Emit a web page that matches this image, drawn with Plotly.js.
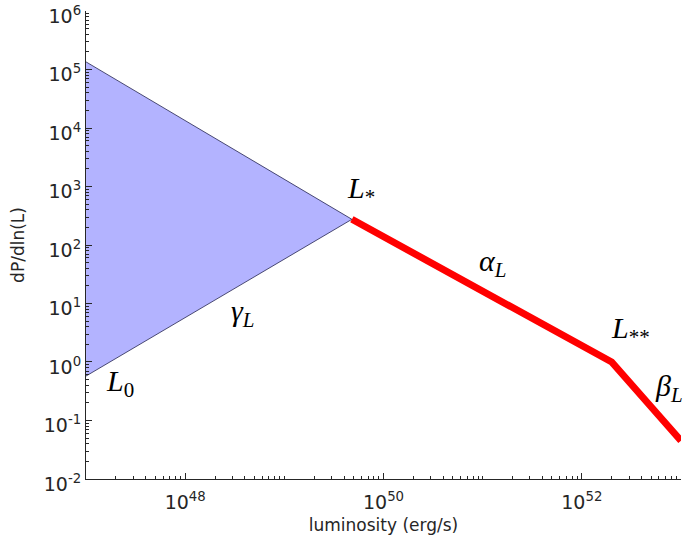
<!DOCTYPE html>
<html>
<head>
<meta charset="utf-8">
<script src="https://cdn.plot.ly/plotly-3.0.1.min.js"></script>
<style>
  html, body { margin: 0; padding: 0; background: #fff; }
  #chart { width: 686px; height: 544px; }
</style>
</head>
<body>
<div id="chart"></div>
<script>
// luminosity function: fan (gamma_L spread) below L*, broken power law above
const fan_L = [1e47, 4.8e49, 1e47];
const fan_P = [1.35e5, 275, 0.575];

const broken_L = [4.8e49, 2e52, 1e53];
const broken_P = [275, 1, 0.045];

const x_tick_vals = [1e48, 1e50, 1e52];
const x_tick_text = ["10<sup>48</sup>", "10<sup>50</sup>", "10<sup>52</sup>"];

const y_tick_vals = [1e-2, 1e-1, 1e0, 1e1, 1e2, 1e3, 1e4, 1e5, 1e6];
const y_tick_text = ["10<sup>-2</sup>", "10<sup>-1</sup>", "10<sup>0</sup>", "10<sup>1</sup>",
  "10<sup>2</sup>", "10<sup>3</sup>", "10<sup>4</sup>", "10<sup>5</sup>", "10<sup>6</sup>"];

// labels, placed in log10 data units
const label_text = ["<i>L</i><sub>*</sub>", "<i>α</i><sub><i>L</i></sub>", "<i>γ</i><sub><i>L</i></sub>",
  "<i>L</i><sub>0</sub>", "<i>L</i><sub>**</sub>", "<i>β</i><sub><i>L</i></sub>"];
const label_x = [49.77, 51.10, 48.58, 47.34, 52.49, 52.88];
const label_y = [2.94, 1.69, 0.84, -0.36, 0.55, -0.44];

const axis_color = "#262626";

const fan_data = {
  x: fan_L,
  y: fan_P,
  mode: "lines",
  type: "scatter",
  fill: "toself",
  fillcolor: "#b3b3ff",
  line: { color: "#23234f", width: 0.8 },
  hoverinfo: "skip",
};

const broken_data = {
  x: broken_L,
  y: broken_P,
  mode: "lines",
  type: "scatter",
  line: { color: "#ff0000", width: 7 },
};

const annotations = label_text.map((t, i) => ({
  text: t,
  x: label_x[i],
  y: label_y[i],
  xref: "x",
  yref: "y",
  showarrow: false,
  font: { family: "Liberation Serif, serif", size: 30, color: "#000" },
}));

const layout = {
  width: 686,
  height: 544,
  margin: { l: 86, r: 5, t: 11, b: 65 },
  paper_bgcolor: "#fff",
  plot_bgcolor: "#fff",
  showlegend: false,
  font: { family: "DejaVu Sans, sans-serif", size: 19, color: axis_color },
  xaxis: {
    type: "log",
    range: [46.9995, 53.0005],
    tickvals: x_tick_vals,
    ticktext: x_tick_text,
    ticks: "inside",
    ticklen: 6,
    tickcolor: axis_color,
    ticklabelstandoff: 6,
    ticklabeloverflow: "allow",
    minor: { dtick: "D1", ticks: "inside", ticklen: 3, tickcolor: axis_color },
    showgrid: false,
    zeroline: false,
    showline: true,
    linecolor: axis_color,
    linewidth: 1,
    title: { text: "luminosity (erg/s)", font: { size: 17 }, standoff: 7 },
  },
  yaxis: {
    type: "log",
    range: [-2.0005, 6.0005],
    tickvals: y_tick_vals,
    ticktext: y_tick_text,
    ticks: "inside",
    ticklen: 6,
    tickcolor: axis_color,
    ticklabelshift: 5,
    ticklabeloverflow: "allow",
    minor: { dtick: "D1", ticks: "inside", ticklen: 3, tickcolor: axis_color },
    showgrid: false,
    zeroline: false,
    showline: true,
    linecolor: axis_color,
    linewidth: 1,
    title: { text: "dP/dln(L)", font: { size: 17 }, standoff: 14 },
  },
  annotations: annotations,
};

Plotly.newPlot("chart", [fan_data, broken_data], layout, { displayModeBar: false, staticPlot: true });
</script>
</body>
</html>
